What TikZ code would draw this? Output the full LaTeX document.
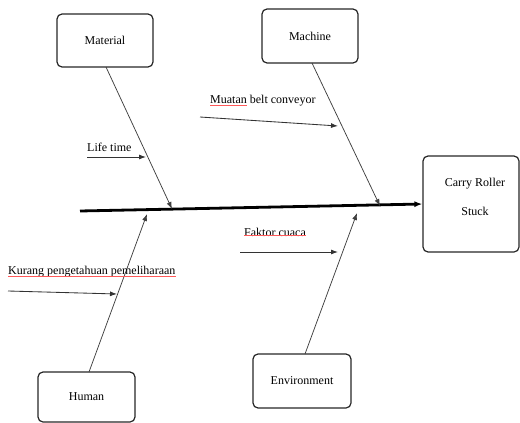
\documentclass[tikz,border=0pt]{standalone}
\usepackage{fontspec}
\setmainfont{Liberation Serif}
\usetikzlibrary{arrows.meta}
\begin{document}
\begin{tikzpicture}[x=1pt,y=-1pt,
  catbox/.style={draw=black!85,line width=1.2pt,rounded corners=5pt,align=center,font=\fontsize{12}{14}\selectfont,inner sep=0pt},
  bone/.style={draw=black!75,line width=0.75pt,-{Latex[length=7pt,width=5pt]}},
  cause/.style={draw=black!80,line width=0.85pt,-{Latex[length=7pt,width=5pt]}},
  spine/.style={draw=black,line width=2.8pt,-{Latex[length=8pt,width=6pt]}},
  lbl/.style={font=\fontsize{12}{14}\selectfont,inner sep=0pt},
  spell/.style={draw=red!65!white,line width=0.6pt}]
\useasboundingbox (0,0) rectangle (520,423);
% category boxes
\node[catbox,minimum width=96pt,minimum height=53pt] (material) at (105,40.5) {Material};
\node[catbox,minimum width=96pt,minimum height=54pt] (machine) at (310,36) {Machine};
\node[catbox,minimum width=96pt,minimum height=96pt] (effect) at (471,204) {};
\node[lbl] (effectA) at (475,184) {Carry Roller};
\node[lbl] (effectB) at (475,211) {Stuck};
\node[catbox,minimum width=97pt,minimum height=50pt] (human) at (86.5,397) {Human};
\node[catbox,minimum width=98pt,minimum height=54pt] (env) at (302,381) {Environment};
% spine
\coordinate (sp0) at (80,211);
\draw[spine] (sp0) -- (effect.west);
% bone end points on spine
\coordinate (mEnd) at (172,209);
\coordinate (mcEnd) at (380,206);
\coordinate (hEnd) at (147,214);
\coordinate (eEnd) at (357,213);
\coordinate (mStart) at (106,67);
\coordinate (mcStart) at (312,63);
\coordinate (hStart) at (89,372);
\coordinate (eStart) at (305,354);
\draw[bone] (mStart) -- (mEnd);
\draw[bone] (mcStart) -- (mcEnd);
\draw[bone] (hStart) -- (hEnd);
\draw[bone] (eStart) -- (eEnd);
% causes
\node[lbl,anchor=west] (lt) at (87,147) {Life time};
\coordinate (lt0) at (87,157);
\coordinate (lt1) at (146,157);
\draw[cause] (lt0) -- (lt1);
\node[lbl,anchor=west] (mb) at (210,101) {Muatan belt conveyor};
\coordinate (mb0) at (200,117);
\coordinate (mb1) at (338,126);
\draw[cause] (mb0) -- (mb1);
\draw[spell] ([yshift=1.5pt]mb.south west) -- ++(37,0);
\node[lbl,anchor=west] (fc) at (244,232) {Faktor cuaca};
\coordinate (fc0) at (240,252);
\coordinate (fc1) at (338,252);
\draw[cause] (fc0) -- (fc1);
\draw[spell] ([yshift=1.5pt]fc.south west) -- ([yshift=1.5pt]fc.south east);
\node[lbl,anchor=west] (kp) at (8,272) {Kurang pengetahuan pemeliharaan};
\coordinate (kp0) at (8,291);
\coordinate (kp1) at (117,294);
\draw[cause] (kp0) -- (kp1);
\draw[spell] ([yshift=1.5pt]kp.south west) -- ([yshift=1.5pt]kp.south east);
\end{tikzpicture}
\end{document}
